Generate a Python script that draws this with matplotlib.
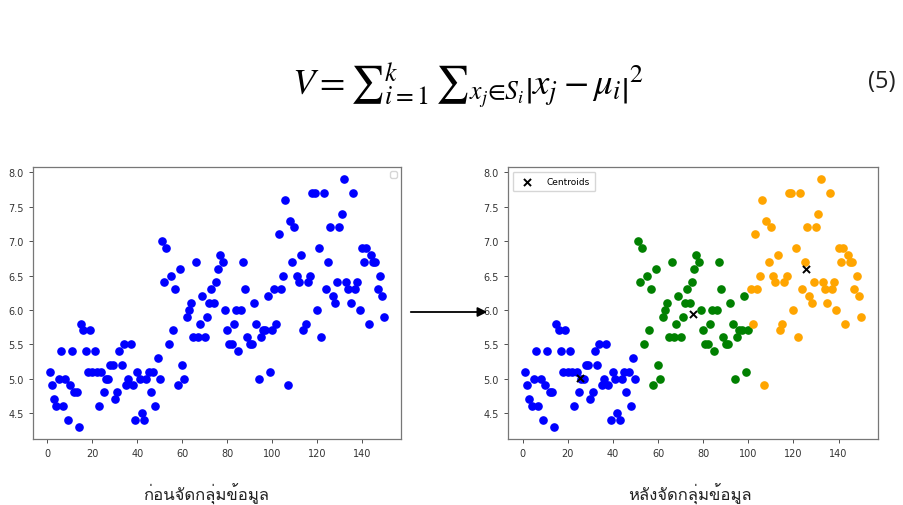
import matplotlib
matplotlib.use("Agg")
import matplotlib.pyplot as plt
from matplotlib import font_manager
from matplotlib.ft2font import FT2Font
import numpy as np

# ---------------- data ----------------
sepal_length = [
    5.1, 4.9, 4.7, 4.6, 5.0, 5.4, 4.6, 5.0, 4.4, 4.9, 5.4, 4.8, 4.8, 4.3, 5.8, 5.7, 5.4, 5.1, 5.7, 5.1,
    5.4, 5.1, 4.6, 5.1, 4.8, 5.0, 5.0, 5.2, 5.2, 4.7, 4.8, 5.4, 5.2, 5.5, 4.9, 5.0, 5.5, 4.9, 4.4, 5.1,
    5.0, 4.5, 4.4, 5.0, 5.1, 4.8, 5.1, 4.6, 5.3, 5.0,
    7.0, 6.4, 6.9, 5.5, 6.5, 5.7, 6.3, 4.9, 6.6, 5.2, 5.0, 5.9, 6.0, 6.1, 5.6, 6.7, 5.6, 5.8, 6.2, 5.6,
    5.9, 6.1, 6.3, 6.1, 6.4, 6.6, 6.8, 6.7, 6.0, 5.7, 5.5, 5.5, 5.8, 6.0, 5.4, 6.0, 6.7, 6.3, 5.6, 5.5,
    5.5, 6.1, 5.8, 5.0, 5.6, 5.7, 5.7, 6.2, 5.1, 5.7,
    6.3, 5.8, 7.1, 6.3, 6.5, 7.6, 4.9, 7.3, 6.7, 7.2, 6.5, 6.4, 6.8, 5.7, 5.8, 6.4, 6.5, 7.7, 7.7, 6.0,
    6.9, 5.6, 7.7, 6.3, 6.7, 7.2, 6.2, 6.1, 6.4, 7.2, 7.4, 7.9, 6.4, 6.3, 6.1, 7.7, 6.3, 6.4, 6.0, 6.9,
    6.7, 6.9, 5.8, 6.8, 6.7, 6.7, 6.3, 6.5, 6.2, 5.9,
]
point_index = list(range(1, len(sepal_length) + 1))
cluster_sizes = [50, 50, 50]
cluster_colors = ["#0000ff", "#008000", "#ffa500"]
centroid_x = [25.5, 75.5, 125.5]
centroid_y = [5.006, 5.936, 6.588]
xticks = [0, 20, 40, 60, 80, 100, 120, 140]
yticks = [4.5, 5.0, 5.5, 6.0, 6.5, 7.0, 7.5, 8.0]
caption_left = "ก่อนจัดกลุ่มข้อมูล"
caption_right = "หลังจัดกลุ่มข้อมูล"
formula = r"$V=∑_{i=1}^{k}\,∑_{x_j∈S_i}\left|x_j-\mu_i\right|^2$"
eq_number = "(5)"

# ---------------- find a font with Thai glyphs ----------------
thai_font = None
for fe in font_manager.fontManager.ttflist:
    try:
        cm = FT2Font(fe.fname).get_charmap()
        if 0x0E01 in cm and 0x0E48 in cm:
            thai_font = fe.name
            if "Sans" in fe.name or "Loma" in fe.name:
                break
    except Exception:
        pass
thai_family = [thai_font, "DejaVu Sans"] if thai_font else ["DejaVu Sans"]

plt.rcParams["mathtext.fontset"] = "stix"

W, H = 904, 506
fig = plt.figure(figsize=(W / 100, H / 100), dpi=100)
fig.patch.set_facecolor("white")

def px_rect(x0, y0, x1, y1):
    return [x0 / W, 1 - y1 / H, (x1 - x0) / W, (y1 - y0) / H]

ax1 = fig.add_axes(px_rect(33, 168, 401, 440))
ax2 = fig.add_axes(px_rect(508, 168, 878, 440))

def style(ax):
    ax.set_xticks(xticks)
    ax.set_yticks(yticks)
    ax.tick_params(labelsize=7, colors="#333333", length=3, width=0.6)
    for s in ax.spines.values():
        s.set_color("#777777")
        s.set_linewidth(0.9)

# left: all points blue
ax1.scatter(point_index, sepal_length, s=27, color="#0000ff", zorder=2)
style(ax1)
ax1.legend(handles=[], loc="upper right", fontsize=6)

# right: clusters
start = 0
for size, col in zip(cluster_sizes, cluster_colors):
    ax2.scatter(point_index[start:start + size], sepal_length[start:start + size],
                s=27, color=col, zorder=2)
    start += size
ax2.scatter(centroid_x, centroid_y, marker="x", s=26, color="black",
            linewidths=1.4, zorder=3, label="Centroids")
style(ax2)
ax2.legend(loc="upper left", fontsize=6.5, handletextpad=1.2, borderpad=0.6)

# formula
fig.text(468 / W, 1 - 86 / H, formula, fontsize=26.5, ha="center", va="center")
fig.text(882 / W, 1 - 82 / H, eq_number, fontsize=17, ha="center", va="center",
         family=["Open Sans", "DejaVu Sans"], color="#222222")

# arrow
fig.add_artist(matplotlib.patches.FancyArrowPatch(
    (408 / W, 1 - 313 / H), (490 / W, 1 - 313 / H), transform=fig.transFigure,
    arrowstyle="-|>", mutation_scale=14, color="black", linewidth=1.3))

# captions
fig.text(206 / W, 1 - 494 / H, caption_left, fontsize=12, ha="center", va="center",
         family=thai_family, color="#222222")
fig.text(690 / W, 1 - 494 / H, caption_right, fontsize=12, ha="center", va="center",
         family=thai_family, color="#222222")

fig.savefig("out.png", dpi=100, facecolor="white")
